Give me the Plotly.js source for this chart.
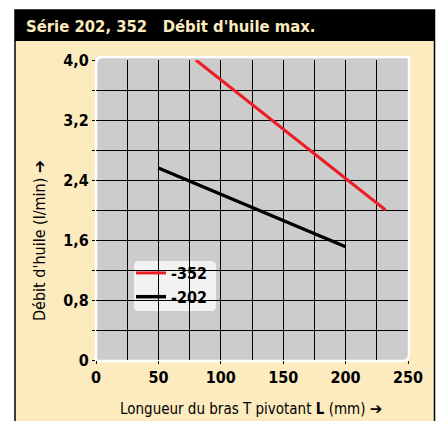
<!DOCTYPE html>
<html>
<head>
<meta charset="utf-8">
<script src="https://cdn.plot.ly/plotly-3.0.1.min.js"></script>
<style>html,body{margin:0;padding:0;background:#fff;}#chart{width:436px;height:421px;}</style>
</head>
<body>
<div id="chart"></div>
<script>
// Data
const seriesNames = ['-352', '-202'];
const length352 = [80, 232];
const flow352 = [4.0, 2.0];
const length202 = [50, 200];
const flow202 = [2.56, 1.51];
const yTickVals = [0, 0.8, 1.6, 2.4, 3.2, 4.0];
const yTickText = ['0', '0,8', '1,6', '2,4', '3,2', '4,0'];
const xTickVals = [0, 50, 100, 150, 200, 250];

const FONT = '"Liberation Sans Narrow", "DejaVu Sans Condensed", "Arial Narrow", sans-serif';
const CREAM = '#FDEBC0';

// geometry helpers (plot area 312 x 300 px)
const W = 436, H = 421, ML = 96, MR = 28, MT = 60, MB = 61;
const PW = W - ML - MR, PH = H - MT - MB;
const px = v => (v - ML) / PW;
const py = v => (H - MB - v) / PH;

function roundRect(x0, y0, x1, y1, r, corners) {
  const rx = r / PW, ry = r / PH;
  let p = '';
  p += `M${x0},${corners.bl ? y0 + ry : y0}`;
  p += ` L${x0},${corners.tl ? y1 - ry : y1}`;
  if (corners.tl) p += ` Q${x0},${y1} ${x0 + rx},${y1}`;
  p += ` L${corners.tr ? x1 - rx : x1},${y1}`;
  if (corners.tr) p += ` Q${x1},${y1} ${x1},${y1 - ry}`;
  p += ` L${x1},${corners.br ? y0 + ry : y0}`;
  if (corners.br) p += ` Q${x1},${y0} ${x1 - rx},${y0}`;
  p += ` L${corners.bl ? x0 + rx : x0},${y0}`;
  if (corners.bl) p += ` Q${x0},${y0} ${x0},${y0 + ry}`;
  p += ' Z';
  return p;
}

const traces = [
  {x: length352, y: flow352, name: seriesNames[0], mode: 'lines', line: {color: '#EE1C25', width: 3}, cliponaxis: false},
  {x: length202, y: flow202, name: seriesNames[1], mode: 'lines', line: {color: '#000000', width: 3.5}, cliponaxis: false}
];

const ARROW = '<span style="font-family:DejaVu Sans;font-weight:bold">➔</span>';

const shapes = [
  {type: 'rect', xref: 'paper', yref: 'paper', x0: px(15), x1: px(434.5), y0: py(430), y1: py(10),
   fillcolor: CREAM, line: {color: '#000', width: 1.5}, layer: 'below'},
  {type: 'rect', xref: 'paper', yref: 'paper', x0: px(15), x1: px(434.5), y0: py(41), y1: py(10),
   fillcolor: '#000', line: {width: 0}, layer: 'below'},
  {type: 'path', xref: 'paper', yref: 'paper', path: roundRect(px(96), py(361), px(409), py(57), 7, {tl: true, br: true}),
   fillcolor: '#CCCCCC', line: {width: 0}, layer: 'below'},
  {type: 'path', xref: 'paper', yref: 'paper', path: roundRect(px(96), py(361), px(409), py(57), 7, {tl: true, br: true}),
   fillcolor: 'rgba(0,0,0,0)', line: {color: '#FFFFFF', width: 2.5}, layer: 'between'},
  {type: 'path', xref: 'paper', yref: 'paper', path: roundRect(px(134), py(311), px(216), py(261), 5, {tl: true, tr: true, br: true, bl: true}),
   fillcolor: '#F2F2F2', line: {width: 0}, layer: 'between'}
];

const layout = {
  width: W, height: H,
  margin: {l: ML, r: MR, t: MT, b: MB},
  paper_bgcolor: '#FFFFFF',
  plot_bgcolor: 'rgba(0,0,0,0)',
  font: {family: FONT, color: '#000'},
  title: {
    text: 'Série 202, 352   Débit d\'huile max.',
    x: 26 / W, xref: 'container', xanchor: 'left',
    y: 1 - 26 / H, yref: 'container', yanchor: 'middle',
    font: {family: FONT, size: 16.5, color: CREAM, weight: 'bold'}
  },
  xaxis: {
    range: [0, 250], fixedrange: true,
    tickmode: 'array', tickvals: xTickVals,
    ticks: 'outside', ticklen: 3, tickwidth: 1, tickcolor: '#000',
    tickfont: {family: FONT, size: 16, weight: 'bold'},
    showgrid: true, gridcolor: '#000', gridwidth: 1,
    minor: {dtick: 25, showgrid: true, gridcolor: '#000', gridwidth: 1, ticks: ''},
    zeroline: false, showline: false
  },
  yaxis: {
    range: [0, 4.0], fixedrange: true,
    tickmode: 'array', tickvals: yTickVals, ticktext: yTickText,
    ticks: 'outside', ticklen: 3, tickwidth: 1, tickcolor: '#000',
    tickfont: {family: FONT, size: 16, weight: 'bold'},
    showgrid: true, gridcolor: '#000', gridwidth: 1,
    minor: {dtick: 0.4, showgrid: true, gridcolor: '#000', gridwidth: 1, ticks: 'outside', ticklen: 3, tickcolor: '#000'},
    zeroline: false, showline: false
  },
  showlegend: true,
  legend: {
    x: px(131), y: py(256), xanchor: 'left', yanchor: 'top',
    bgcolor: 'rgba(0,0,0,0)', borderwidth: 0,
    font: {family: FONT, size: 16, weight: 'bold'},
    tracegroupgap: 0
  },
  shapes: shapes,
  annotations: [
    {text: 'Longueur du bras T pivotant <b>L</b> (mm) ' + ARROW,
     xref: 'paper', yref: 'paper', x: px(251), y: py(409), xanchor: 'center', yanchor: 'middle',
     showarrow: false, font: {family: FONT, size: 15, color: '#000'}},
    {text: 'Débit d\'huile (l/min) ' + ARROW,
     xref: 'paper', yref: 'paper', x: px(40), y: py(241), xanchor: 'center', yanchor: 'middle',
     textangle: -90, showarrow: false, font: {family: FONT, size: 16, color: '#000'}}
  ]
};

Plotly.newPlot('chart', traces, layout, {displayModeBar: false, staticPlot: true});
</script>
</body>
</html>
